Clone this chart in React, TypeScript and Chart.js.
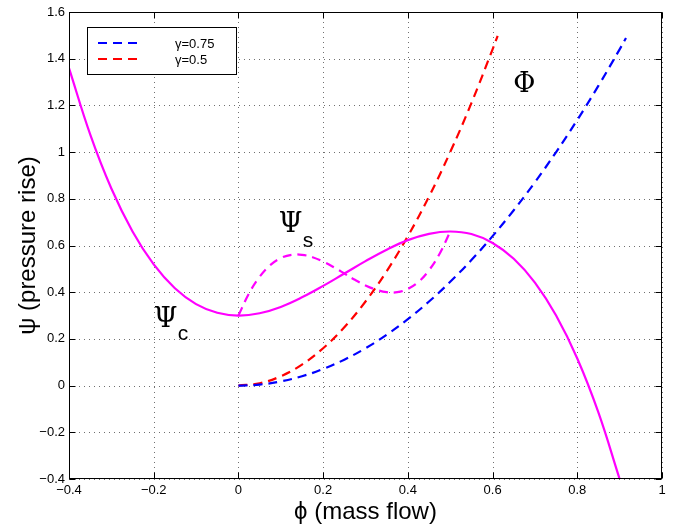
import { useEffect, useRef } from "react";
import { Chart, registerables } from "chart.js";

Chart.register(...registerables);

// Compressor characteristic Ψc (solid magenta)
const phiC = [-0.4, -0.35, -0.3, -0.25, -0.2, -0.15, -0.1, -0.05, 0, 0.05, 0.1, 0.15, 0.2, 0.25, 0.3, 0.35, 0.4, 0.45, 0.5, 0.55, 0.6, 0.65, 0.7, 0.75, 0.8, 0.85, 0.9];
const psiC = [1.36, 1.076, 0.844, 0.66, 0.519, 0.417, 0.349, 0.312, 0.3, 0.31, 0.337, 0.378, 0.427, 0.48, 0.533, 0.582, 0.623, 0.65, 0.66, 0.649, 0.611, 0.543, 0.441, 0.3, 0.116, -0.116, -0.4];

// Ψs (dashed magenta)
const phiS = [0, 0.025, 0.05, 0.075, 0.1, 0.125, 0.15, 0.175, 0.2, 0.225, 0.25, 0.275, 0.3, 0.325, 0.35, 0.375, 0.4, 0.425, 0.45, 0.475, 0.5];
const psiS = [0.3, 0.395, 0.466, 0.516, 0.546, 0.56, 0.56, 0.55, 0.531, 0.507, 0.48, 0.453, 0.429, 0.411, 0.4, 0.4, 0.414, 0.444, 0.494, 0.565, 0.66];

// Throttle line γ=0.75 (blue dashed)
const phiG075 = [0, 0.05, 0.1, 0.15, 0.2, 0.25, 0.3, 0.35, 0.4, 0.45, 0.5, 0.55, 0.6, 0.65, 0.7, 0.75, 0.8, 0.85, 0.9, 0.915];
const psiG075 = [0, 0.0044, 0.0178, 0.04, 0.0711, 0.1111, 0.16, 0.2178, 0.2844, 0.36, 0.4444, 0.5378, 0.64, 0.7511, 0.8711, 1.0, 1.1378, 1.2844, 1.44, 1.4884];

// Throttle line γ=0.5 (red dashed)
const phiG05 = [0, 0.05, 0.1, 0.15, 0.2, 0.25, 0.3, 0.35, 0.4, 0.45, 0.5, 0.55, 0.6, 0.612];
const psiG05 = [0, 0.01, 0.04, 0.09, 0.16, 0.25, 0.36, 0.49, 0.64, 0.81, 1.0, 1.21, 1.44, 1.498];

const xTicks = [-0.4, -0.2, 0, 0.2, 0.4, 0.6, 0.8, 1];
const yTicks = [-0.4, -0.2, 0, 0.2, 0.4, 0.6, 0.8, 1, 1.2, 1.4, 1.6];
const legendLabels = ["γ=0.75", "γ=0.5"];
const xTitle = "ϕ (mass flow)";
const yTitle = "ψ (pressure rise)";

const MAGENTA = "#ff00ff";
const BLUE = "#0000ff";
const RED = "#ff0000";
const SANS = '"Liberation Sans", Arial, sans-serif';
const SERIF = '"DejaVu Serif", "Liberation Serif", serif';

const fmt = (v: number) => String(Math.round(v * 10) / 10).replace("-", "\u2212");

const matlabPlugin = {
  id: "matlabStyle",
  beforeDatasetsDraw(chart: any) {
    const { ctx, chartArea: a, scales } = chart;
    const x = scales.x, y = scales.y;
    ctx.save();
    ctx.strokeStyle = "#707070";
    ctx.lineWidth = 1;
    ctx.setLineDash([1, 4]);
    ctx.beginPath();
    for (const t of xTicks) {
      const px = Math.round(x.getPixelForValue(t)) + 0.5;
      ctx.moveTo(px, a.top);
      ctx.lineTo(px, a.bottom);
    }
    for (const t of yTicks) {
      const py = Math.round(y.getPixelForValue(t)) + 0.5;
      ctx.moveTo(a.left, py);
      ctx.lineTo(a.right, py);
    }
    ctx.stroke();
    ctx.restore();
  },
  afterDatasetsDraw(chart: any) {
    const { ctx, chartArea: a, scales } = chart;
    const x = scales.x, y = scales.y;
    ctx.save();
    // box
    ctx.setLineDash([]);
    ctx.strokeStyle = "#000";
    ctx.lineWidth = 1;
    const L = Math.round(a.left) + 0.5, R = Math.round(a.right) - 0.5;
    const T = Math.round(a.top) + 0.5, B = Math.round(a.bottom) - 0.5;
    ctx.strokeRect(L, T, R - L, B - T);
    // inward ticks
    const tl = 6;
    ctx.beginPath();
    for (const t of xTicks) {
      const px = Math.round(x.getPixelForValue(t)) + 0.5;
      ctx.moveTo(px, B); ctx.lineTo(px, B - tl);
      ctx.moveTo(px, T); ctx.lineTo(px, T + tl);
    }
    for (const t of yTicks) {
      const py = Math.round(y.getPixelForValue(t)) + 0.5;
      ctx.moveTo(L, py); ctx.lineTo(L + tl, py);
      ctx.moveTo(R, py); ctx.lineTo(R - tl, py);
    }
    ctx.stroke();

    // legend box
    const lx = 87.5, ly = 27.5, lw = 149, lh = 47;
    ctx.fillStyle = "#fff";
    ctx.fillRect(lx, ly, lw, lh);
    ctx.strokeStyle = "#000";
    ctx.strokeRect(lx, ly, lw, lh);
    const colors = [BLUE, RED];
    legendLabels.forEach((lab, i) => {
      const yy = 43 + i * 16;
      ctx.strokeStyle = colors[i];
      ctx.lineWidth = 2;
      ctx.setLineDash([9, 6]);
      ctx.beginPath();
      ctx.moveTo(98, yy);
      ctx.lineTo(140, yy);
      ctx.stroke();
      ctx.setLineDash([]);
      ctx.fillStyle = "#000";
      ctx.font = `13px ${SANS}`;
      ctx.textAlign = "left";
      ctx.textBaseline = "middle";
      ctx.fillText(lab, 175, yy + 1);
    });

    // annotations
    ctx.fillStyle = "#000";
    ctx.textAlign = "left";
    ctx.textBaseline = "alphabetic";
    const px1 = x.getPixelForValue(-0.2), py1 = y.getPixelForValue(0.251);
    ctx.font = `27px ${SERIF}`;
    ctx.fillText("Ψ", px1, py1);
    ctx.font = `21px ${SANS}`;
    ctx.fillText("c", px1 + 24, py1 + 13);

    const px2 = x.getPixelForValue(0.095), py2 = y.getPixelForValue(0.658);
    ctx.font = `27px ${SERIF}`;
    ctx.fillText("Ψ", px2, py2);
    ctx.font = `21px ${SANS}`;
    ctx.fillText("s", px2 + 24, py2 + 15);

    const px3 = x.getPixelForValue(0.649), py3 = y.getPixelForValue(1.257);
    ctx.font = `27px ${SERIF}`;
    ctx.fillText("Φ", px3, py3);

    // axis titles
    ctx.font = `24px ${SANS}`;
    ctx.textAlign = "center";
    ctx.fillText(xTitle, (a.left + a.right) / 2, 519);
    ctx.translate(35, (a.top + a.bottom) / 2);
    ctx.rotate(-Math.PI / 2);
    ctx.fillText(yTitle, 0, 0);
    ctx.restore();
  },
};

export default function App() {
  const ref = useRef<HTMLCanvasElement>(null);
  useEffect(() => {
    if (!ref.current) return;
    const toXY = (xs: number[], ys: number[]) => xs.map((v, i) => ({ x: v, y: ys[i] }));
    const tickFont = { family: SANS, size: 13 };
    const chart = new Chart(ref.current, {
      type: "scatter",
      data: {
        datasets: [
          { label: "Ψc", data: toXY(phiC, psiC), borderColor: MAGENTA, borderWidth: 2.2, showLine: true, pointRadius: 0, tension: 0.4 } as any,
          { label: "Ψs", data: toXY(phiS, psiS), borderColor: MAGENTA, borderWidth: 2.2, borderDash: [9, 6], showLine: true, pointRadius: 0, tension: 0.4 } as any,
          { label: legendLabels[0], data: toXY(phiG075, psiG075), borderColor: BLUE, borderWidth: 2.2, borderDash: [9, 6], showLine: true, pointRadius: 0, tension: 0.4 } as any,
          { label: legendLabels[1], data: toXY(phiG05, psiG05), borderColor: RED, borderWidth: 2.2, borderDash: [9, 6], showLine: true, pointRadius: 0, tension: 0.4 } as any,
        ],
      },
      options: {
        responsive: false,
        animation: false,
        layout: { padding: { top: 12, right: 21, left: 0, bottom: 0 } },
        plugins: { legend: { display: false }, tooltip: { enabled: false } },
        scales: {
          x: {
            type: "linear",
            min: -0.4,
            max: 1,
            afterBuildTicks: (s: any) => { s.ticks = xTicks.map((v) => ({ value: v })); },
            afterFit: (s: any) => { s.height = 48; },
            grid: { display: false, drawTicks: false },
            border: { display: false },
            ticks: { padding: 4, color: "#000", font: tickFont, maxRotation: 0, autoSkip: false, callback: (v: any) => fmt(Number(v)) },
          },
          y: {
            type: "linear",
            min: -0.4,
            max: 1.6,
            afterBuildTicks: (s: any) => { s.ticks = yTicks.map((v) => ({ value: v })); },
            afterFit: (s: any) => { s.width = 69; },
            grid: { display: false, drawTicks: false },
            border: { display: false },
            ticks: { padding: 4, color: "#000", font: tickFont, autoSkip: false, callback: (v: any) => fmt(Number(v)) },
          },
        },
      } as any,
      plugins: [matlabPlugin],
    });
    return () => chart.destroy();
  }, []);
  return (
    <canvas
      ref={ref}
      width={683}
      height={527}
      style={{ position: "fixed", left: 0, top: 0, display: "block", width: 683, height: 527 }}
    />
  );
}
